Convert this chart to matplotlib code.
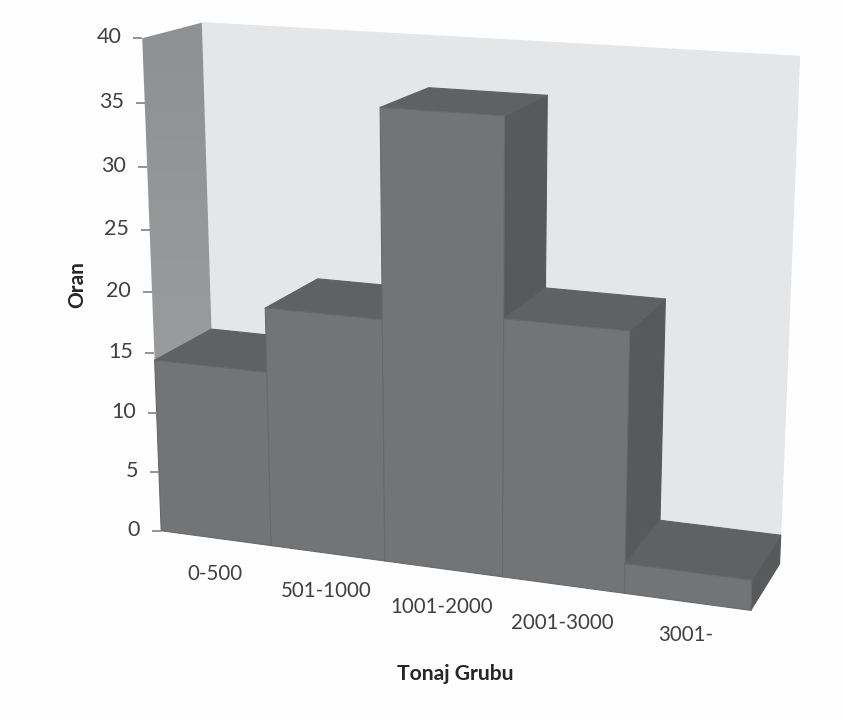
import numpy as np
import matplotlib
matplotlib.use('Agg')
import matplotlib.pyplot as plt
from matplotlib.colors import LinearSegmentedColormap
from matplotlib.patches import Polygon

# Chart values
categories = ['0-500', '501-1000', '1001-2000', '2001-3000', '3001-']
values = [14.4, 19.6, 35.9, 20.6, 2.4]
y_ticks = [0, 5, 10, 15, 20, 25, 30, 35, 40]
x_title = 'Tonaj Grubu'
y_title = 'Oran'

Y_MAX = 40
N = len(categories)

# Distance of each category label below the floor edge
label_drop = [36, 38, 38, 38, 33]

# Where the corners of the chart box land on the canvas: (category, value, depth) -> (px, py)
frame = [
    ((0, 0, 0), (162, 532)),
    ((N, 0, 0), (751, 611)),
    ((N, 0, 1), (780, 563)),
    ((0, Y_MAX, 0), (143, 38)),
    ((0, Y_MAX, 1), (201, 23)),
    ((N, Y_MAX, 1), (800, 57)),
    ((1, 0, 0), (271, 546)),
    ((2, 0, 0), (384, 562)),
    ((3, 0, 0), (502, 576)),
    ((4, 0, 0), (624, 593)),
    ((0, 10, 0), (158, 412)),
    ((0, 20, 0), (151, 291)),
    ((0, 30, 0), (147, 167)),
]

# Solve a perspective camera from those corners
rows = []
for (c, v, d), (px, py) in frame:
    p = [c, v, d, 1]
    rows.append(p + [0, 0, 0, 0] + [-px * q for q in p])
    rows.append([0, 0, 0, 0] + p + [-py * q for q in p])
camera = np.linalg.svd(np.array(rows, dtype=float))[2][-1].reshape(3, 4)


def project(c, v, d):
    u = camera @ np.array([c, v, d, 1.0])
    return u[0] / u[2], u[1] / u[2]


def face(ax, corners, color, edge=None, z=1):
    pts = [project(*p) for p in corners]
    ax.add_patch(Polygon(pts, closed=True, facecolor=color, edgecolor=edge or color,
                         linewidth=0.8, joinstyle='round', zorder=z))


plt.rcParams['font.family'] = ['Lato', 'DejaVu Sans']
fig = plt.figure(figsize=(8.44, 7.2), dpi=100, facecolor='#fefefe')
ax = fig.add_axes([0, 0, 1, 1])
ax.axis('off')

# Back wall
face(ax, [(0, 0, 1), (N, 0, 1), (N, Y_MAX, 1), (0, Y_MAX, 1)], '#e5e6e8')

# Side wall, a little lighter towards the floor
wall = Polygon([project(*p) for p in [(0, 0, 0), (0, 0, 1), (0, Y_MAX, 1), (0, Y_MAX, 0)]],
               closed=True, facecolor='none', edgecolor='none')
ax.add_patch(wall)
wall_cmap = LinearSegmentedColormap.from_list('wall', ['#8f9092', '#a0a1a3'])
shade = ax.imshow(np.linspace(0, 1, 256).reshape(-1, 1), cmap=wall_cmap, aspect='auto',
                  extent=(130, 215, 540, 15), zorder=1)
shade.set_clip_path(wall)

ax.set_xlim(0, 844)
ax.set_ylim(720, 0)

# Bars, left to right so each one covers the side of its neighbour
for i, val in enumerate(values):
    x0, x1 = i, i + 1
    face(ax, [(x1, 0, 0), (x1, 0, 1), (x1, val, 1), (x1, val, 0)], '#58595b', z=2)
    face(ax, [(x0, val, 0), (x1, val, 0), (x1, val, 1), (x0, val, 1)], '#606163', z=2)
    face(ax, [(x0, 0, 0), (x1, 0, 0), (x1, val, 0), (x0, val, 0)], '#737476', edge='#68696b', z=2)

# Value axis
text_color = '#404040'
for t in y_ticks:
    px, py = project(0, t, 0)
    ax.plot([px - 9, px], [py, py], color='#808080', lw=1.2, zorder=3, solid_capstyle='butt')
    ax.text(px - 21, py - 1, str(t), ha='right', va='center', fontsize=15.5, color=text_color)

# Category labels
for i, name in enumerate(categories):
    px, py = project(i + 0.5, 0, 0)
    ax.text(px - 1, py + label_drop[i], name, ha='center', va='center', fontsize=14.8, color=text_color)

ax.text(455, 674, x_title, ha='center', va='center', fontsize=15.2, fontweight='bold', color='#262626')
ax.text(77, 285, y_title, ha='center', va='center', rotation=90, fontsize=15, fontweight='bold', color='#262626')

fig.savefig('out.png', dpi=100, facecolor=fig.get_facecolor())
